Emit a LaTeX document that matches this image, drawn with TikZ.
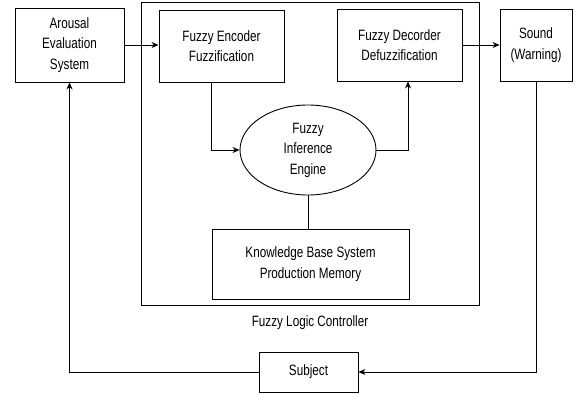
\documentclass[tikz,border=0pt]{standalone}
\usepackage{fontspec}
\setmainfont{Liberation Sans}[FakeStretch=0.78]
\usetikzlibrary{shapes.geometric,arrows.meta}

\tikzset{
    block/.style={draw, line width=0.9pt, align=center, inner sep=0pt},
    flow/.style={line width=0.9pt, -{Stealth[length=7pt,width=6pt]}},
    link/.style={line width=0.9pt}
}

\begin{document}
\begin{tikzpicture}[x=1pt, y=-1pt, font=\fontsize{15}{20.5}\selectfont]
            \useasboundingbox (0,0) rectangle (579,394);

            % outer controller
            \node[block, minimum width=338pt, minimum height=303pt] (flc) at (310,153.5) {};
            \node (flclabel) at (310,323) {Fuzzy Logic Controller};

            % blocks
            \node[block, minimum width=109pt, minimum height=74pt] (arousal) at (69.5,45) {Arousal\\Evaluation\\System};
            \node[block, minimum width=125pt, minimum height=72pt] (encoder) at (221.5,46) {Fuzzy Encoder\\Fuzzification};
            \node[block, minimum width=125pt, minimum height=72pt] (decoder) at (399.5,45) {Fuzzy Decorder\\Defuzzification};
            \node[block, minimum width=72pt, minimum height=72pt] (sound) at (536,45) {Sound\\(Warning)};
            \node[block, ellipse, minimum width=136pt, minimum height=90pt] (engine) at (308,150) {Fuzzy\\Inference\\Engine};
            \node[block, minimum width=197pt, minimum height=70pt] (kb) at (310.5,264) {Knowledge Base System\\Production Memory};
            \node[block, minimum width=99pt, minimum height=40pt] (subject) at (308.5,372) {Subject};

            % connectors
            \draw[flow] (arousal.east) -- (arousal.east -| encoder.west);
            \draw[flow] ([xshift=-10pt]encoder.south) |- (engine.west);
            \draw[flow] (engine.east) -| ([xshift=8.5pt]decoder.south);
            \draw[flow] (decoder.east) -- (decoder.east -| sound.west);
            \draw[link] (engine.south) -- (engine.south |- kb.north);
            \draw[flow] (sound.south) |- (subject.east);
            \draw[flow] (subject.west) -| (arousal.south);
        \end{tikzpicture}
\end{document}
